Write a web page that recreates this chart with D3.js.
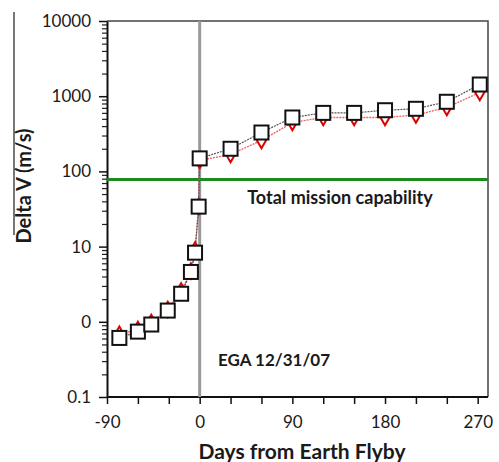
<html>
<head>
<script src="https://d3js.org/d3.v7.min.js"></script>
<style>
  body { margin: 0; background: #fff; }
  text { font-family: Lato, "Open Sans", sans-serif; fill: #1a1a1a; }
</style>
</head>
<body>
<script>
// days from flyby and delta V (m/s)
var days = [-78, -60, -47, -31, -18, -8.5, -4.5, -1, 0, 30, 60, 90, 120, 150, 180, 210, 240, 272];
var squareDV = [0.61, 0.74, 0.92, 1.41, 2.36, 4.6, 8.3, 34, 149, 200, 329, 521, 600, 600, 651, 680, 843, 1430];
var diamondDV = [0.68, 0.79, 0.98, 1.46, 2.57, 4.74, 9.0, 34, 140, 168, 258, 447, 521, 521, 521, 562, 707, 1120];
var capability = 78;
var xTicks = [-90, -60, -30, 0, 30, 60, 90, 120, 150, 180, 210, 240, 270];
var xLabels = [-90, 0, 90, 180, 270];
var yTicks = [0.1, 1, 10, 100, 1000, 10000];
var yLabels = ["0.1", "0", "10", "100", "1000", "10000"];

var width = 499, height = 462;
var pLeft = 107, pRight = 488, pTop = 21, pBottom = 397;

var svg = d3.select("body").append("svg")
    .attr("width", width)
    .attr("height", height);

var x = d3.scaleLinear().domain([-90, 280]).range([pLeft, pRight]);
var y = d3.scaleLog().domain([0.1, 10000]).range([pBottom, pTop]);

// stray border line at the far left of the figure
svg.append("line")
    .attr("x1", 14).attr("x2", 14).attr("y1", 12).attr("y2", 235)
    .style("stroke", "#777").style("stroke-width", 2);

// frame (top and right)
svg.append("path")
    .attr("d", "M" + pLeft + "," + pTop + "H" + pRight + "V" + pBottom)
    .style("fill", "none").style("stroke", "#444").style("stroke-width", 1.5);

// minor log ticks
var minor = [];
yTicks.slice(0, -1).forEach(function(t) {
    for (var k = 2; k <= 9; k++) minor.push(t * k);
});
svg.append("g")
    .attr("transform", "translate(" + pLeft + ",0)")
    .call(d3.axisLeft(y).tickValues(minor).tickSize(5).tickFormat(""))
    .call(function(g) { g.select(".domain").remove(); })
    .selectAll("line").style("stroke", "#222").style("stroke-width", 1.2);

var yAxis = svg.append("g")
    .attr("transform", "translate(" + pLeft + ",0)")
    .call(d3.axisLeft(y).tickValues(yTicks).tickSize(8).tickSizeOuter(0)
        .tickFormat(function(d, i) { return yLabels[i]; }));
yAxis.select(".domain").style("stroke", "#111").style("stroke-width", 2);
yAxis.selectAll("line").style("stroke", "#111").style("stroke-width", 1.5);
yAxis.selectAll("text").style("font-size", "17px").attr("x", -16);

var xAxis = svg.append("g")
    .attr("transform", "translate(0," + pBottom + ")")
    .call(d3.axisBottom(x).tickValues(xTicks).tickSize(7).tickSizeOuter(0)
        .tickFormat(function(d) { return xLabels.indexOf(d) >= 0 ? d : ""; }));
xAxis.select(".domain").attr("d", "M" + pLeft + ",0H" + pRight)
    .style("stroke", "#111").style("stroke-width", 2);
xAxis.selectAll("line").style("stroke", "#111").style("stroke-width", 1.5);
xAxis.selectAll("text").style("font-size", "17px").attr("y", 19);

// flyby marker and capability line
svg.append("line")
    .attr("x1", x(0)).attr("x2", x(0)).attr("y1", pTop).attr("y2", pBottom)
    .style("stroke", "#9a9a9a").style("stroke-width", 3);
svg.append("line")
    .attr("x1", pLeft).attr("x2", pRight).attr("y1", y(capability)).attr("y2", y(capability))
    .style("stroke", "#1d8a1d").style("stroke-width", 3);

var line = function(vals) {
    return d3.line().x(function(d, i) { return x(days[i]); }).y(function(d) { return y(d); })(vals);
};

// red diamond series
svg.append("path").attr("d", line(diamondDV))
    .style("fill", "none").style("stroke", "#f06060").style("stroke-width", 1.3)
    .style("stroke-dasharray", "2,1");
svg.selectAll("path.dia").data(diamondDV).enter().append("path")
    .attr("class", "dia")
    .attr("d", d3.symbol().type(d3.symbolDiamond).size(70))
    .attr("transform", function(d, i) { return "translate(" + x(days[i]) + "," + y(d) + ")"; })
    .style("fill", "#fff").style("stroke", "#e00000").style("stroke-width", 2);

// black square series
svg.append("path").attr("d", line(squareDV))
    .style("fill", "none").style("stroke", "#555").style("stroke-width", 1.2)
    .style("stroke-dasharray", "2,1");
svg.selectAll("rect.sq").data(squareDV).enter().append("rect")
    .attr("class", "sq")
    .attr("x", function(d, i) { return x(days[i]) - 7; })
    .attr("y", function(d) { return y(d) - 7; })
    .attr("width", 14).attr("height", 14)
    .style("fill", "#fff").style("stroke", "#111").style("stroke-width", 2);

// annotations
svg.append("text").attr("x", 340).attr("y", 204).attr("text-anchor", "middle")
    .style("font-size", "18px").style("font-weight", "bold")
    .text("Total mission capability");
svg.append("text").attr("x", 218).attr("y", 366)
    .style("font-size", "17px").style("font-weight", "bold")
    .text("EGA 12/31/07");

// axis titles
svg.append("text").attr("x", 302).attr("y", 459).attr("text-anchor", "middle")
    .style("font-size", "21px").style("font-weight", "bold")
    .text("Days from Earth Flyby");
svg.append("text").attr("transform", "translate(31,186) rotate(-90)")
    .attr("text-anchor", "middle")
    .style("font-size", "20px").style("font-weight", "bold")
    .text("Delta V (m/s)");
</script>
</body>
</html>
